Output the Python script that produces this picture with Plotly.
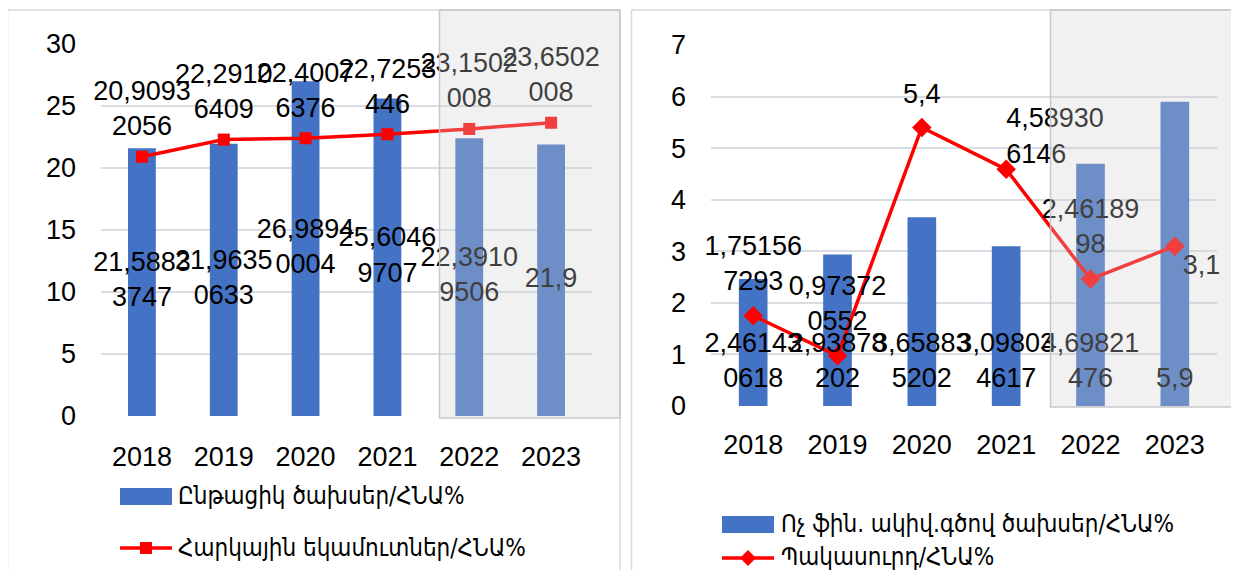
import plotly.graph_objects as go

W, H = 1239, 570
OFF = 8  # page body margin of the html page

# ---------------- data ----------------
years = ["2018", "2019", "2020", "2021", "2022", "2023"]
current_exp = [21.58833747, 21.96350633, 26.98940004, 25.60469707, 22.39109506, 21.9]
tax_rev = [20.90932056, 22.29106409, 22.40076376, 22.7253446, 23.1502008, 23.6502008]
nonfin_exp = [2.461430618, 2.93878202, 3.658835202, 3.098034617, 4.69821476, 5.9]
deficit = [1.751567293, 0.973720552, 5.4, 4.589306146, 2.4618998, 3.1]
left_ticks = [0, 5, 10, 15, 20, 25, 30]
right_ticks = [0, 1, 2, 3, 4, 5, 6, 7]
name_current = "Ընթացիկ ծախսեր/ՀՆԱ%"
name_tax = "Հարկային եկամուտներ/ՀՆԱ%"
name_nonfin = "Ոչ ֆին. ակիվ.գծով ծախսեր/ՀՆԱ%"
name_deficit = "Պակասուրդ/ՀՆԱ%"

# ---------------- style ----------------
BLUE = "#4472C4"
RED = "#FF0000"
GRID = "#D9DCE2"
FRAME = "#D6DBE3"
NUM_FONT = "Liberation Sans, Arial, sans-serif"
ARM_FONT = "DejaVu Sans Condensed, DejaVu Sans, sans-serif"
FS = 27


def px(x):
    return (x - OFF) / W


def py(y):
    return 1 - (y - OFF) / H


def label(v, n=7):
    s = repr(v).replace(".", ",")
    return s if len(s) <= n else s[:n] + "<br>" + s[n:]


fig = go.Figure()

# ---------------- left panel ----------------
fig.add_trace(go.Bar(x=years, y=current_exp, name=name_current, width=0.34,
                     marker=dict(color=BLUE, line=dict(width=0)),
                     xaxis="x", yaxis="y", showlegend=False))
fig.add_trace(go.Scatter(x=years, y=tax_rev, name=name_tax, mode="lines+markers",
                         line=dict(color=RED, width=3.5),
                         marker=dict(symbol="square", size=12, color=RED),
                         xaxis="x", yaxis="y", showlegend=False))
# bar labels (centre of bar)
fig.add_trace(go.Scatter(x=years, y=[v / 2 for v in current_exp], mode="text",
                         text=[label(v) for v in current_exp], textposition="middle center",
                         textfont=dict(family=NUM_FONT, size=FS, color="black"),
                         xaxis="x", yaxis="y", showlegend=False, hoverinfo="skip", cliponaxis=False))
# line labels (above)
fig.add_trace(go.Scatter(x=years, y=tax_rev, mode="markers+text",
                         marker=dict(size=22, opacity=0),
                         text=[label(v) for v in tax_rev], textposition="top center",
                         textfont=dict(family=NUM_FONT, size=FS, color="black"),
                         xaxis="x", yaxis="y", showlegend=False, hoverinfo="skip", cliponaxis=False))

# ---------------- right panel ----------------
fig.add_trace(go.Bar(x=years, y=nonfin_exp, name=name_nonfin, width=0.34,
                     marker=dict(color=BLUE, line=dict(width=0)),
                     xaxis="x2", yaxis="y2", showlegend=False))
fig.add_trace(go.Scatter(x=years, y=deficit, name=name_deficit, mode="lines+markers",
                         line=dict(color=RED, width=3.5),
                         marker=dict(symbol="diamond", size=15, color=RED),
                         xaxis="x2", yaxis="y2", showlegend=False))
# bar labels (inside base)
fig.add_trace(go.Scatter(x=years, y=[0 for _ in nonfin_exp], mode="markers+text",
                         marker=dict(size=18, opacity=0),
                         text=[label(v) for v in nonfin_exp], textposition="top center",
                         textfont=dict(family=NUM_FONT, size=FS, color="black"),
                         xaxis="x2", yaxis="y2", showlegend=False, hoverinfo="skip", cliponaxis=False))
# line labels
fig.add_trace(go.Scatter(x=years, y=deficit, mode="markers+text",
                         marker=dict(size=[29, 29, 27, 0, 29, 11], opacity=0),
                         text=[label(v) for v in deficit],
                         textposition=["top center", "top center", "top center",
                                       "top right", "top center", "bottom right"],
                         textfont=dict(family=NUM_FONT, size=FS, color="black"),
                         xaxis="x2", yaxis="y2", showlegend=False, hoverinfo="skip", cliponaxis=False))

tickfont = dict(family=NUM_FONT, size=FS, color="black")
xcommon = dict(type="category", range=[-0.5, 5.5], showgrid=False, zeroline=False,
               showline=False, ticks="", tickfont=tickfont, fixedrange=True, automargin=False)
ycommon = dict(showgrid=True, gridcolor=GRID, gridwidth=1.5, zeroline=False, showline=False,
               ticks="", tickfont=tickfont, fixedrange=True, automargin=False)

fig.update_layout(
    width=W, height=H, autosize=False,
    margin=dict(l=0, r=0, t=0, b=0, pad=0, autoexpand=False),
    paper_bgcolor="white", plot_bgcolor="rgba(0,0,0,0)",
    xaxis=dict(domain=[px(101), px(592)], anchor="y", ticklabelstandoff=22, **xcommon),
    yaxis=dict(domain=[py(416), py(44)], anchor="x", range=[0, 30], tickvals=left_ticks,
               ticklabelstandoff=24, **ycommon),
    xaxis2=dict(domain=[px(711), px(1217)], anchor="y2", ticklabelstandoff=20, **xcommon),
    yaxis2=dict(domain=[py(406), py(45)], anchor="x2", range=[0, 7], tickvals=right_ticks,
                ticklabelstandoff=24, **ycommon),
    showlegend=False,
)

shapes = []
# panel frames
shapes.append(dict(type="rect", xref="paper", yref="paper", x0=px(7.5), x1=px(620),
                   y0=py(590), y1=py(10), line=dict(color=FRAME, width=1.5),
                   fillcolor="rgba(0,0,0,0)", layer="below"))
shapes.append(dict(type="rect", xref="paper", yref="paper", x0=px(631.5), x1=px(1260),
                   y0=py(590), y1=py(10), line=dict(color=FRAME, width=1.5),
                   fillcolor="rgba(0,0,0,0)", layer="below"))
# forecast overlays (semi-transparent, above the data)
shapes.append(dict(type="rect", xref="paper", yref="paper", x0=px(439.5), x1=px(620),
                   y0=py(418), y1=py(10), line=dict(color="rgba(195,195,195,0.9)", width=1.5),
                   fillcolor="rgba(209,209,209,0.3)", layer="above"))
shapes.append(dict(type="rect", xref="paper", yref="paper", x0=px(1050.5), x1=px(1260),
                   y0=py(407), y1=py(10), line=dict(color="rgba(195,195,195,0.9)", width=1.5),
                   fillcolor="rgba(209,209,209,0.3)", layer="above"))

# custom legends
# left
shapes.append(dict(type="rect", xref="paper", yref="paper", x0=px(120), x1=px(172),
                   y0=py(505), y1=py(488), fillcolor=BLUE, line=dict(width=0)))
shapes.append(dict(type="line", xref="paper", yref="paper", x0=px(120), x1=px(172),
                   y0=py(548), y1=py(548), line=dict(color=RED, width=3.5)))
shapes.append(dict(type="rect", xref="paper", yref="paper", x0=px(140), x1=px(152),
                   y0=py(554), y1=py(542), fillcolor=RED, line=dict(width=0)))
# right
shapes.append(dict(type="rect", xref="paper", yref="paper", x0=px(722), x1=px(774),
                   y0=py(533), y1=py(516), fillcolor=BLUE, line=dict(width=0)))
shapes.append(dict(type="line", xref="paper", yref="paper", x0=px(722), x1=px(774),
                   y0=py(558), y1=py(558), line=dict(color=RED, width=3.5)))
cx, cy, d = 748, 558, 8
shapes.append(dict(type="path", xref="paper", yref="paper",
                   path=f"M {px(cx)} {py(cy - d)} L {px(cx + d)} {py(cy)} L {px(cx)} {py(cy + d)} L {px(cx - d)} {py(cy)} Z",
                   fillcolor=RED, line=dict(width=0)))

legend_items = [
    (name_current, 176, 496),
    (name_tax, 176, 548),
    (name_nonfin, 779, 524),
    (name_deficit, 779, 557),
]
annotations = []
for txt, x, y in legend_items:
    annotations.append(dict(text=txt, xref="paper", yref="paper", x=px(x), y=py(y),
                            xanchor="left", yanchor="middle", showarrow=False,
                            font=dict(family=ARM_FONT, size=24, color="black")))

fig.update_layout(shapes=shapes, annotations=annotations)

fig.write_html("out.html")
